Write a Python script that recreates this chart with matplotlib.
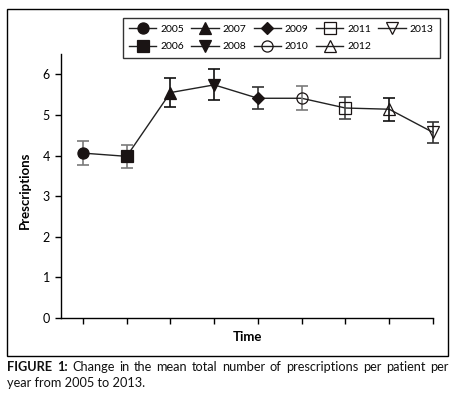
import matplotlib
matplotlib.use("Agg")
import matplotlib.pyplot as plt
from matplotlib.patches import Rectangle
from matplotlib.lines import Line2D

plt.rcParams['font.family'] = ['Lato', 'DejaVu Sans']

years = ["2005", "2006", "2007", "2008", "2009", "2010", "2011", "2012", "2013"]
means = [4.06, 3.98, 5.55, 5.74, 5.41, 5.41, 5.17, 5.14, 4.57]
errors = [0.29, 0.29, 0.35, 0.38, 0.27, 0.30, 0.28, 0.28, 0.25]
y_ticks = [0, 1, 2, 3, 4, 5, 6]

markers = ['o', 's', '^', 'v', 'D', 'o', 's', '^', 'v']
filled = [True, True, True, True, True, False, False, False, False]
msizes = [8, 9, 8, 8, 6, 8, 8, 8, 8]
err_colors = ['#7a7a7a', '#7a7a7a', '#111111', '#111111', '#333333',
              '#7a7a7a', '#444444', '#111111', '#333333']

W, H = 457, 398
fig = plt.figure(figsize=(W / 100, H / 100), dpi=100)

def fx(px):
    return px / W

def fy(py):
    return 1 - py / H

ax = fig.add_axes([fx(61), fy(318), fx(433) - fx(61), fy(54) - fy(318)])
x = list(range(len(years)))
dark = '#1a1414'
ax.plot(x, means, color='#222222', lw=1.0, zorder=2, clip_on=False)

handles = []
for i, yr in enumerate(years):
    eb = ax.errorbar(x[i], means[i], yerr=errors[i], fmt='none', ecolor=err_colors[i],
                     elinewidth=1.2, capsize=4, capthick=1.2, zorder=3)
    for art in eb.lines[1] + eb.lines[2]:
        art.set_clip_on(False)
    fc = dark if filled[i] else 'none'
    ax.plot(x[i], means[i], marker=markers[i], ms=msizes[i], mfc=fc,
            mec=dark, mew=0.9, ls='none', zorder=4, clip_on=False)
    handles.append(Line2D([], [], color='#222222', lw=1.0, marker=markers[i],
                          ms=msizes[i], mfc=fc, mec=dark, mew=0.9, label=yr))

ax.set_xlim(-0.5, 8)
ax.set_ylim(0, 6.5)
ax.set_xticks(x)
ax.set_xticklabels([])
ax.set_yticks(y_ticks)
ax.tick_params(axis='both', direction='out', length=4.5, width=1, colors='black',
               labelsize=9)
for s in ['top', 'right']:
    ax.spines[s].set_visible(False)
for s in ['left', 'bottom']:
    ax.spines[s].set_linewidth(1)

fig.text(fx(25), fy(190), 'Prescriptions', rotation=90, ha='center', va='center',
         fontsize=9.5, fontweight='bold')
fig.text(fx(247), fy(337), 'Time', ha='center', va='center', fontsize=9.5,
         fontweight='bold')

leg = fig.legend(handles=handles, ncol=5, loc='upper right',
                 bbox_to_anchor=(fx(445), fy(13)), frameon=True, fancybox=False,
                 edgecolor='black', fontsize=7.5, handlelength=2.6,
                 columnspacing=0.7, handletextpad=0.4, borderpad=0.6,
                 labelspacing=0.8)
leg.get_frame().set_linewidth(1.0)

fig.patches.append(Rectangle((fx(7), fy(356)), fx(448) - fx(7), fy(9) - fy(356),
                             transform=fig.transFigure, fill=False,
                             edgecolor='black', lw=1.0))

# Caption (justified first line)
renderer = fig.canvas.get_renderer()
cap_size = 9.2
line1 = [("FIGURE", 'bold'), ("1:", 'bold'), ("Change", 'normal'), ("in", 'normal'),
         ("the", 'normal'), ("mean", 'normal'), ("total", 'normal'), ("number", 'normal'),
         ("of", 'normal'), ("prescriptions", 'normal'), ("per", 'normal'),
         ("patient", 'normal'), ("per", 'normal')]
texts = []
widths = []
for w, wt in line1:
    t = fig.text(0, fy(367), w, fontsize=cap_size, fontweight=wt, va='center',
                 ha='left', color='#111111')
    texts.append(t)
    widths.append(t.get_window_extent(renderer).width)
left, right = 7, 448
gap = (right - left - sum(widths)) / (len(widths) - 1)
pos = left
for t, wd in zip(texts, widths):
    t.set_x(fx(pos))
    pos += wd + gap
fig.text(fx(7), fy(383), "year from 2005 to 2013.", fontsize=cap_size,
         va='center', ha='left', color='#111111')

fig.savefig('out.png', dpi=100)
